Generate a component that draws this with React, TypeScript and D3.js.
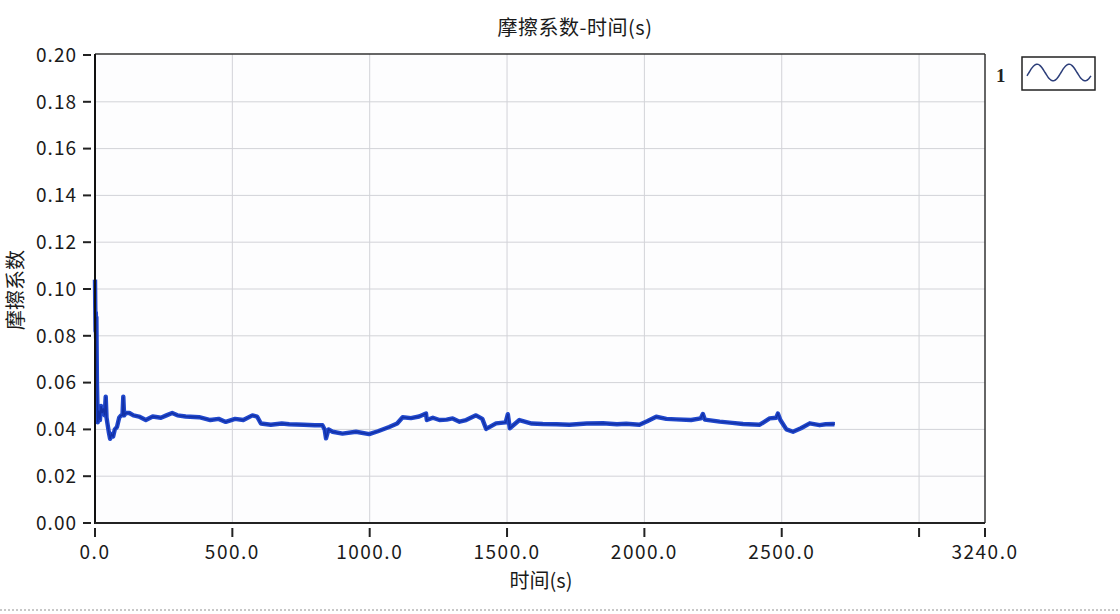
import React, { useEffect, useRef } from 'react';
import * as d3 from 'd3';

// 时间 (s)
const timeSec = [
  0, 1, 2, 3, 4, 5, 7, 10, 14, 18, 22, 26, 30, 35, 39, 42, 46, 50, 55, 60, 66, 72, 80, 88, 95,
  100, 103, 106, 112, 125, 140, 160, 185, 210, 240, 260, 281, 300, 330, 379, 420, 450, 476,
  510, 540, 573, 590, 604, 640, 680, 707, 760, 800, 828, 836, 841, 850, 865, 901, 950, 998,
  1030, 1071, 1100, 1120, 1150, 1180, 1205, 1208, 1230, 1254, 1280, 1302, 1327, 1351, 1387,
  1410, 1424, 1460, 1495, 1503, 1510, 1545, 1590, 1630, 1680, 1727, 1790, 1849, 1900, 1934,
  1982, 2010, 2043, 2080, 2116, 2170, 2205, 2213, 2220, 2274, 2320, 2359, 2420, 2456, 2480,
  2486, 2495, 2517, 2541, 2570, 2602, 2638, 2660, 2687, 2693,
];

// 摩擦系数
const friction = [
  0.104, 0.092, 0.082, 0.09, 0.079, 0.088, 0.06, 0.043, 0.048, 0.044, 0.05, 0.047, 0.049,
  0.046, 0.054, 0.045, 0.042, 0.039, 0.036, 0.038, 0.037, 0.04, 0.041, 0.045, 0.046,
  0.046, 0.054, 0.046, 0.047, 0.047, 0.046, 0.0455, 0.044, 0.0455, 0.045, 0.046, 0.047,
  0.046, 0.0455, 0.0452, 0.044, 0.0445, 0.0432, 0.0445, 0.044, 0.046, 0.0455, 0.0425,
  0.042, 0.0425, 0.0422, 0.042, 0.0418, 0.0418, 0.04, 0.0362, 0.04, 0.039, 0.0382, 0.039,
  0.038, 0.0392, 0.041, 0.0425, 0.0452, 0.0448, 0.0455, 0.0468, 0.044, 0.045, 0.044,
  0.0442, 0.0447, 0.0433, 0.044, 0.046, 0.0445, 0.0402, 0.0426, 0.043, 0.0465, 0.0405,
  0.044, 0.0425, 0.0423, 0.0422, 0.042, 0.0425, 0.0426, 0.0422, 0.0424, 0.042, 0.0435,
  0.0454, 0.0445, 0.0443, 0.044, 0.0447, 0.0466, 0.0442, 0.0433, 0.0428, 0.0423, 0.042,
  0.0447, 0.045, 0.0468, 0.044, 0.04, 0.039, 0.0405, 0.0426, 0.0418, 0.0422, 0.0423, 0.0422,
];

const xTicks = [0, 500, 1000, 1500, 2000, 2500, 3000, 3240];
const xTickLabels = ['0.0', '500.0', '1000.0', '1500.0', '2000.0', '2500.0', '', '3240.0'];
const yTicks = [0, 0.02, 0.04, 0.06, 0.08, 0.1, 0.12, 0.14, 0.16, 0.18, 0.2];

const title = '摩擦系数-时间(s)';
const xTitle = '时间(s)';
const yTitle = '摩擦系数';
const legendLabel = '1';

const App: React.FC = () => {
  const ref = useRef<SVGSVGElement>(null);

  useEffect(() => {
    if (!ref.current) return;
    const svg = d3.select(ref.current);
    svg.selectAll('*').remove();

    const W = 1120;
    const H = 614;
    const m = { left: 95, right: 985, top: 54, bottom: 523 };
    const font = '"Noto Sans CJK SC", "Noto Sans", sans-serif';

    const x = d3.scaleLinear().domain([0, 3240]).range([m.left, m.right]);
    const y = d3.scaleLinear().domain([0, 0.2]).range([m.bottom, 55]);

    svg.append('rect').attr('width', W).attr('height', H).attr('fill', '#ffffff');
    svg.append('rect')
      .attr('x', m.left).attr('y', m.top)
      .attr('width', m.right - m.left).attr('height', m.bottom - m.top)
      .attr('fill', '#fdfdfe');

    // 网格
    svg.append('g').selectAll('line')
      .data(yTicks.slice(1, -1))
      .enter().append('line')
      .attr('x1', m.left).attr('x2', m.right)
      .attr('y1', d => y(d)).attr('y2', d => y(d))
      .attr('stroke', '#d2d3d8').attr('stroke-width', 1);
    svg.append('g').selectAll('line')
      .data(xTicks.slice(1, -1))
      .enter().append('line')
      .attr('x1', d => x(d)).attr('x2', d => x(d))
      .attr('y1', m.top).attr('y2', m.bottom)
      .attr('stroke', '#d2d3d8').attr('stroke-width', 1);

    // 曲线
    const pts = timeSec.map((t, i) => [t, friction[i]] as [number, number]);
    const line = d3.line<[number, number]>().x(d => x(d[0])).y(d => y(d[1]));
    svg.append('path')
      .datum(pts)
      .attr('d', line)
      .attr('fill', 'none')
      .attr('stroke', '#2148cc')
      .attr('stroke-width', 4.4)
      .attr('stroke-linejoin', 'round');
    svg.append('path')
      .datum(pts)
      .attr('d', line)
      .attr('fill', 'none')
      .attr('stroke', '#1230a6')
      .attr('stroke-width', 1.4);

    // 边框
    svg.append('line')
      .attr('x1', m.left).attr('x2', m.right).attr('y1', m.top).attr('y2', m.top)
      .attr('stroke', '#333').attr('stroke-width', 1.5);
    svg.append('line')
      .attr('x1', m.right).attr('x2', m.right).attr('y1', m.top).attr('y2', m.bottom)
      .attr('stroke', '#333').attr('stroke-width', 1.5);
    svg.append('line')
      .attr('x1', m.left).attr('x2', m.left).attr('y1', m.top).attr('y2', m.bottom + 1)
      .attr('stroke', '#111').attr('stroke-width', 2);
    svg.append('line')
      .attr('x1', m.left).attr('x2', m.right).attr('y1', m.bottom).attr('y2', m.bottom)
      .attr('stroke', '#222').attr('stroke-width', 2);

    // y 轴刻度
    const yg = svg.append('g');
    yg.selectAll('line')
      .data(yTicks)
      .enter().append('line')
      .attr('x1', 83).attr('x2', 91)
      .attr('y1', d => y(d)).attr('y2', d => y(d))
      .attr('stroke', '#222').attr('stroke-width', 2);
    yg.selectAll('text')
      .data(yTicks)
      .enter().append('text')
      .attr('x', 77).attr('y', d => y(d))
      .attr('dy', '0.36em')
      .attr('text-anchor', 'end')
      .attr('font-family', font).attr('font-size', 19)
      .attr('letter-spacing', 1)
      .attr('fill', '#1a1a1a')
      .text(d => d3.format('.2f')(d));

    // x 轴刻度
    const xg = svg.append('g');
    xg.selectAll('line')
      .data(xTicks)
      .enter().append('line')
      .attr('x1', d => x(d)).attr('x2', d => x(d))
      .attr('y1', 528).attr('y2', 537)
      .attr('stroke', '#222').attr('stroke-width', 2);
    xg.selectAll('text')
      .data(xTicks)
      .enter().append('text')
      .attr('x', d => x(d)).attr('y', 552)
      .attr('dy', '0.36em')
      .attr('text-anchor', 'middle')
      .attr('font-family', font).attr('font-size', 19)
      .attr('letter-spacing', 1.5)
      .attr('fill', '#1a1a1a')
      .text((d, i) => xTickLabels[i]);

    // 标题
    svg.append('text')
      .attr('x', 575).attr('y', 28).attr('dy', '0.36em')
      .attr('text-anchor', 'middle')
      .attr('font-family', font).attr('font-size', 20)
      .attr('letter-spacing', 0.5)
      .attr('fill', '#1a1a1a')
      .text(title);
    svg.append('text')
      .attr('x', 541).attr('y', 581).attr('dy', '0.36em')
      .attr('text-anchor', 'middle')
      .attr('font-family', font).attr('font-size', 20)
      .attr('fill', '#1a1a1a')
      .text(xTitle);
    svg.append('text')
      .attr('transform', 'translate(16, 290) rotate(-90)')
      .attr('dy', '0.36em')
      .attr('text-anchor', 'middle')
      .attr('font-family', font).attr('font-size', 20)
      .attr('fill', '#1a1a1a')
      .text(yTitle);

    // 图例
    svg.append('text')
      .attr('x', 996).attr('y', 75).attr('dy', '0.36em')
      .attr('font-family', '"Liberation Serif", serif').attr('font-size', 19)
      .attr('font-weight', 'bold')
      .attr('fill', '#222')
      .text(legendLabel);
    svg.append('rect')
      .attr('x', 1022).attr('y', 57).attr('width', 73).attr('height', 33)
      .attr('fill', '#ffffff').attr('stroke', '#222').attr('stroke-width', 1.5);
    const lx = d3.scaleLinear().domain([0, 2]).range([1027, 1091]);
    const ly = d3.scaleLinear().domain([-1, 1]).range([81, 64]);
    const wave = d3.range(0, 2.01, 0.05).map(t => [t, Math.sin(t * Math.PI * 2 - 0.4)] as [number, number]);
    svg.append('path')
      .datum(wave)
      .attr('d', d3.line<[number, number]>().x(d => lx(d[0])).y(d => ly(d[1])).curve(d3.curveBasis))
      .attr('fill', 'none').attr('stroke', '#2d3f7a').attr('stroke-width', 1.5);

    // 底部虚线
    svg.append('line')
      .attr('x1', 0).attr('x2', W).attr('y1', 610).attr('y2', 610)
      .attr('stroke', '#c8c8c8').attr('stroke-width', 2).attr('stroke-dasharray', '2 2');
  }, []);

  return (
    <svg
      ref={ref}
      width={1120}
      height={614}
      viewBox="0 0 1120 614"
      style={{ position: 'absolute', left: 0, top: 0, display: 'block' }}
    />
  );
};

export default App;
